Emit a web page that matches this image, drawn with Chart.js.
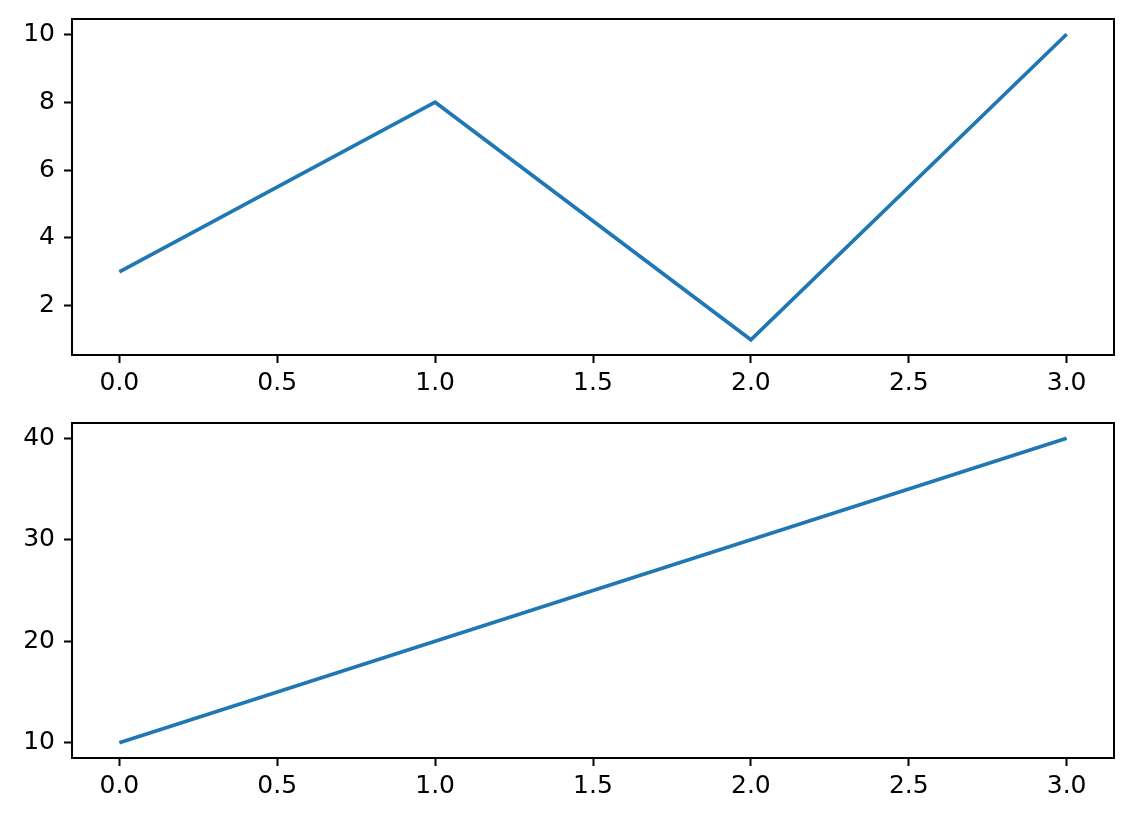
<!DOCTYPE html>
<html>
<head>
<meta charset="utf-8">
<script src="https://cdn.jsdelivr.net/npm/chart.js@4"></script>
<style>
  body { margin: 0; background: #fff; }
  #wrap { position: relative; width: 1132px; height: 822px; }
  .box { position: absolute; left: 0; width: 1132px; }
</style>
</head>
<body>
<div id="wrap">
  <div class="box" style="top:0;height:400px"><canvas id="topChart"></canvas></div>
  <div class="box" style="top:400px;height:422px"><canvas id="bottomChart"></canvas></div>
</div>
<script>
// data
var xValues = [0, 1, 2, 3];
var topValues = [3, 8, 1, 10];
var bottomValues = [10, 20, 30, 40];
var xTicks = [0, 0.5, 1, 1.5, 2, 2.5, 3];
var topYTicks = [2, 4, 6, 8, 10];
var bottomYTicks = [10, 20, 30, 40];

Chart.defaults.font.family = 'DejaVu Sans';
Chart.defaults.font.size = 25;
Chart.defaults.color = '#000';

// draw the full box around the plot area
var frame = {
    id: 'frame',
    afterDraw: function (chart) {
        var a = chart.chartArea, ctx = chart.ctx;
        ctx.save();
        ctx.strokeStyle = '#000';
        ctx.lineWidth = 2;
        ctx.strokeRect(a.left, a.top, a.right - a.left, a.bottom - a.top);
        ctx.restore();
    }
};

function makeChart(canvasId, values, yTicks, yMin, yMax, padTop, xHeight) {
    var ctx = document.getElementById(canvasId).getContext('2d');
    return new Chart(ctx, {
        type: 'line',
        data: {
            datasets: [{
                data: xValues.map(function (x, i) { return { x: x, y: values[i] }; }),
                borderColor: '#1f77b4',
                borderWidth: 3.7,
                pointRadius: 0,
                tension: 0,
                fill: false
            }]
        },
        options: {
            responsive: true,
            maintainAspectRatio: false,
            animation: false,
            events: [],
            layout: { padding: { top: padTop, right: 18, left: 0, bottom: 0 } },
            plugins: { legend: { display: false }, tooltip: { enabled: false } },
            scales: {
                x: {
                    type: 'linear',
                    min: -0.15,
                    max: 3.15,
                    afterBuildTicks: function (scale) {
                        scale.ticks = xTicks.map(function (v) { return { value: v }; });
                    },
                    afterFit: function (scale) {
                        scale.height = xHeight;
                        scale.paddingLeft = 0;
                        scale.paddingRight = 0;
                    },
                    ticks: {
                        padding: 5,
                        maxRotation: 0,
                        callback: function (value) { return value.toFixed(1); }
                    },
                    grid: { drawOnChartArea: false, tickLength: 8, tickColor: '#000', tickWidth: 2 },
                    border: { display: true, color: '#000', width: 2 }
                },
                y: {
                    min: yMin,
                    max: yMax,
                    afterBuildTicks: function (scale) {
                        scale.ticks = yTicks.map(function (v) { return { value: v }; });
                    },
                    afterFit: function (scale) {
                        scale.width = 72;
                        scale.paddingTop = 0;
                        scale.paddingBottom = 0;
                    },
                    ticks: { padding: 9 },
                    grid: { drawOnChartArea: false, tickLength: 8, tickColor: '#000', tickWidth: 2 },
                    border: { display: true, color: '#000', width: 2 }
                }
            }
        },
        plugins: [frame]
    });
}

makeChart('topChart', topValues, topYTicks, 0.55, 10.45, 19, 45);
makeChart('bottomChart', bottomValues, bottomYTicks, 8.5, 41.5, 23, 64);
</script>
</body>
</html>
